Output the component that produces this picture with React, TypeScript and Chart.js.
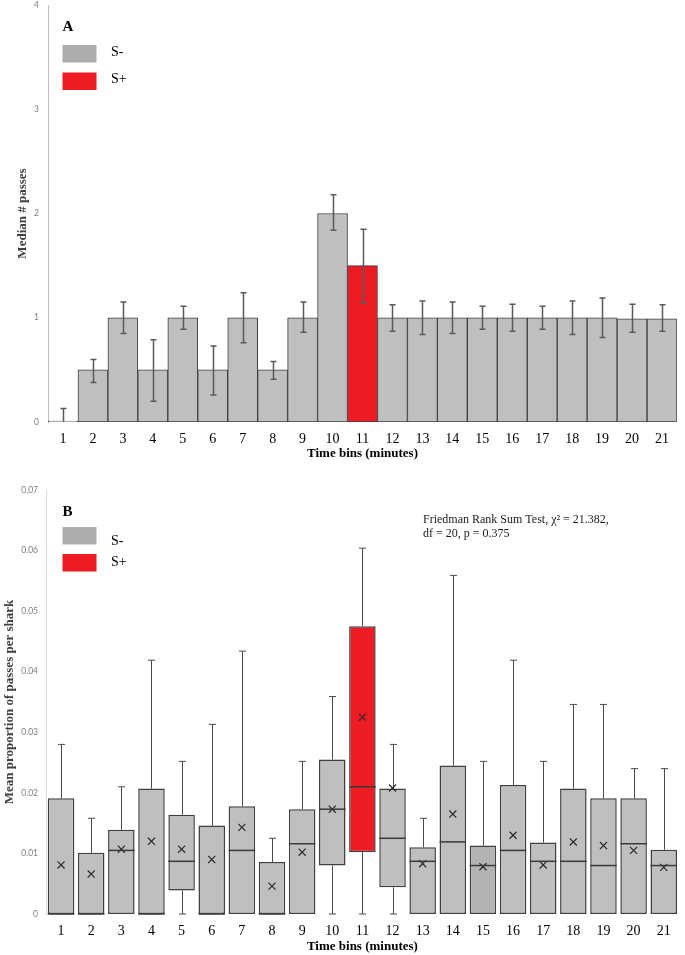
import React, { useEffect, useRef } from "react";
import { Chart, registerables } from "chart.js";

Chart.register(...registerables);

// ---------- Data ----------
const timeBins = ["1","2","3","4","5","6","7","8","9","10","11","12","13","14","15","16","17","18","19","20","21"];
const stimulusIndex = 10; // bin 11 = S+

// Panel A: median # passes with error bars
const medianPasses = [0, 0.5, 1, 0.5, 1, 0.5, 1, 0.5, 1, 2, 1.5, 1, 1, 1, 1, 1, 1, 1, 1, 0.99, 0.99];
const passesErrLow = [0, 0.38, 0.85, 0.2, 0.89, 0.26, 0.76, 0.41, 0.86, 1.84, 1.14, 0.87, 0.84, 0.85, 0.89, 0.87, 0.89, 0.84, 0.81, 0.86, 0.87];
const passesErrHigh = [0.13, 0.6, 1.15, 0.79, 1.11, 0.73, 1.24, 0.58, 1.15, 2.18, 1.85, 1.125, 1.16, 1.15, 1.11, 1.13, 1.11, 1.16, 1.19, 1.13, 1.125];
const passTicks = [0, 1, 2, 3, 4];

// Panel B: box plots of mean proportion of passes per shark
const propMin = [0, 0, 0, 0, 0, 0, 0, 0, 0, 0, 0, 0, 0, 0, 0, 0, 0, 0, 0, 0, 0];
const propQ1 = [0, 0, 0, 0, 0.0039, 0, 0, 0, 0, 0.008, 0.0102, 0.0044, 0, 0, 0, 0, 0, 0, 0, 0, 0];
const propMedian = [0, 0, 0.0105, 0, 0.0087, 0, 0.0105, 0, 0.0116, 0.0173, 0.021, 0.0125, 0.0087, 0.0119, 0.008, 0.0105, 0.0087, 0.0087, 0.008, 0.0116, 0.008];
const propQ3 = [0.0191, 0.0101, 0.0139, 0.0207, 0.0164, 0.0146, 0.0178, 0.0086, 0.0173, 0.0255, 0.0475, 0.0207, 0.011, 0.0245, 0.0113, 0.0213, 0.0118, 0.0207, 0.0191, 0.0191, 0.0106];
const propMax = [0.028, 0.0158, 0.021, 0.0419, 0.0252, 0.0313, 0.0434, 0.0125, 0.0252, 0.0359, 0.0604, 0.028, 0.0158, 0.0559, 0.0252, 0.0419, 0.0252, 0.0346, 0.0346, 0.024, 0.024];
const propMean = [0.0081, 0.0066, 0.0107, 0.012, 0.0107, 0.009, 0.0143, 0.0046, 0.0102, 0.0173, 0.0325, 0.0208, 0.0083, 0.0165, 0.0078, 0.013, 0.0081, 0.0119, 0.0113, 0.0105, 0.0077];
const propTicks = [0, 0.01, 0.02, 0.03, 0.04, 0.05, 0.06, 0.07];

const legendLabels = ["S-", "S+"];
const statLine1 = "Friedman Rank Sum Test, \u03C7\u00B2 = 21.382,";
const statLine2 = "df = 20, p = 0.375";

// ---------- Styles ----------
const GRAY_BAR = "#c0bfbf";
const GRAY_BOX = "#bfbfbf";
const GRAY_BOX_DARK = "#b3b3b3";
const RED = "#ed1c24";
const SWATCH_GRAY = "#adadad";
const SERIF = "'Liberation Serif', 'Times New Roman', serif";
const SANS = "Lato, 'Open Sans', sans-serif";

function drawLegend(ctx: CanvasRenderingContext2D, letter: string, letterY: number, sw1Y: number, sw2Y: number, t1Y: number, t2Y: number) {
  ctx.save();
  ctx.fillStyle = "#000";
  ctx.font = `bold 15px ${SERIF}`;
  ctx.textBaseline = "middle";
  ctx.textAlign = "left";
  ctx.fillText(letter, 62.5, letterY);
  ctx.fillStyle = SWATCH_GRAY;
  ctx.fillRect(62.5, sw1Y, 34, 17.5);
  ctx.fillStyle = RED;
  ctx.fillRect(62.5, sw2Y, 34, 17.5);
  ctx.fillStyle = "#000";
  ctx.font = `14px ${SERIF}`;
  ctx.fillText(legendLabels[0], 111, t1Y);
  ctx.fillText(legendLabels[1], 111, t2Y);
  ctx.restore();
}

function PanelA() {
  const ref = useRef<HTMLCanvasElement | null>(null);
  useEffect(() => {
    const errorBars = {
      id: "errorBarsA",
      afterDatasetsDraw(chart: any) {
        const { ctx } = chart;
        const meta = chart.getDatasetMeta(0);
        const y = chart.scales.y;
        ctx.save();
        ctx.strokeStyle = "#5a5a5a";
        ctx.lineWidth = 1.5;
        meta.data.forEach((bar: any, i: number) => {
          const x = Math.round(bar.x) + 0.5;
          const yl = y.getPixelForValue(passesErrLow[i]);
          const yh = y.getPixelForValue(passesErrHigh[i]);
          ctx.beginPath();
          ctx.moveTo(x, yl);
          ctx.lineTo(x, yh);
          ctx.moveTo(x - 3, yh);
          ctx.lineTo(x + 3, yh);
          if (passesErrLow[i] > 0) {
            ctx.moveTo(x - 3, yl);
            ctx.lineTo(x + 3, yl);
          }
          ctx.stroke();
        });
        ctx.restore();
        drawLegend(ctx, "A", 27, 45, 72.5, 52, 79);
      },
    };
    const chart = new Chart(ref.current as HTMLCanvasElement, {
      type: "bar",
      data: {
        labels: timeBins,
        datasets: [
          {
            data: medianPasses,
            backgroundColor: timeBins.map((_, i) => (i === stimulusIndex ? RED : GRAY_BAR)),
            borderColor: "#3f3f3f",
            borderWidth: 1,
            borderSkipped: false,
            barPercentage: 1,
            categoryPercentage: 1,
            minBarLength: 1,
          },
        ],
      },
      options: {
        responsive: false,
        maintainAspectRatio: false,
        animation: false,
        layout: { padding: { top: 5, right: 8, bottom: 0, left: 0 } },
        plugins: { legend: { display: false }, tooltip: { enabled: false } },
        scales: {
          x: {
            grid: { display: false, drawTicks: false },
            border: { display: false },
            ticks: { color: "#000", font: { family: SERIF, size: 14 }, padding: 9, maxRotation: 0, autoSkip: false },
            title: {
              display: true,
              text: "Time bins (minutes)",
              color: "#000",
              font: { family: SERIF, size: 13, weight: "bold" },
              padding: { top: 0, bottom: 4 },
            },
            afterFit: (s: any) => { s.height = 43; s.paddingLeft = 0; s.paddingRight = 0; },
          },
          y: {
            min: 0,
            max: 4,
            afterBuildTicks: (s: any) => { s.ticks = passTicks.map((v) => ({ value: v })); },
            grid: { display: false, drawTicks: false },
            border: { display: true, color: "#bfbfbf", width: 1 },
            ticks: { color: "#7f7f7f", font: { family: SANS, size: 8.5 }, padding: 9 },
            title: {
              display: true,
              text: "Median # passes",
              color: "#404040",
              font: { family: SERIF, size: 13, weight: "bold" },
              padding: { top: 15, bottom: 0 },
            },
            afterFit: (s: any) => { s.width = 48; s.paddingTop = 0; s.paddingBottom = 0; },
          },
        },
      },
      plugins: [errorBars],
    } as any);
    return () => chart.destroy();
  }, []);
  return <canvas ref={ref} width={685} height={465} style={{ position: "absolute", left: 0, top: 0, width: 685, height: 465 }} />;
}

function PanelB() {
  const ref = useRef<HTMLCanvasElement | null>(null);
  useEffect(() => {
    const boxParts = {
      id: "boxPartsB",
      beforeDatasetsDraw(chart: any) {
        const { ctx } = chart;
        const meta = chart.getDatasetMeta(0);
        const y = chart.scales.y;
        ctx.save();
        ctx.strokeStyle = "#4a4a4a";
        ctx.lineWidth = 1;
        meta.data.forEach((bar: any, i: number) => {
          const x = Math.round(bar.x) + 0.5;
          const yMax = y.getPixelForValue(propMax[i]);
          const yQ3 = y.getPixelForValue(propQ3[i]);
          ctx.beginPath();
          ctx.moveTo(x, yQ3);
          ctx.lineTo(x, yMax);
          ctx.moveTo(x - 3.5, yMax);
          ctx.lineTo(x + 3.5, yMax);
          if (propQ1[i] > propMin[i]) {
            const yMin = y.getPixelForValue(propMin[i]);
            const yQ1 = y.getPixelForValue(propQ1[i]);
            ctx.moveTo(x, yQ1);
            ctx.lineTo(x, yMin);
            ctx.moveTo(x - 3.5, yMin);
            ctx.lineTo(x + 3.5, yMin);
          }
          ctx.stroke();
        });
        ctx.restore();
      },
      afterDatasetsDraw(chart: any) {
        const { ctx } = chart;
        const meta = chart.getDatasetMeta(0);
        const y = chart.scales.y;
        ctx.save();
        ctx.strokeStyle = "#3a3a3a";
        ctx.lineWidth = 1.5;
        meta.data.forEach((bar: any, i: number) => {
          const ym = y.getPixelForValue(propMedian[i]);
          ctx.beginPath();
          ctx.moveTo(bar.x - bar.width / 2, ym);
          ctx.lineTo(bar.x + bar.width / 2, ym);
          ctx.stroke();
        });
        ctx.restore();
        drawLegend(ctx, "B", 47, 62, 89, 76.5, 97);
        ctx.save();
        ctx.fillStyle = "#1a1a1a";
        ctx.font = `12px ${SERIF}`;
        ctx.textBaseline = "middle";
        ctx.textAlign = "left";
        ctx.fillText(statLine1, 423, 55);
        ctx.fillText(statLine2, 423, 68.5);
        ctx.restore();
      },
    };
    const chart = new Chart(ref.current as HTMLCanvasElement, {
      type: "bar",
      data: {
        labels: timeBins,
        datasets: [
          {
            type: "bar",
            data: timeBins.map((_, i) => [propQ1[i], propQ3[i]]),
            backgroundColor: timeBins.map((_, i) => (i === stimulusIndex ? RED : i === 14 ? GRAY_BOX_DARK : GRAY_BOX)),
            borderColor: "#3f3f3f",
            borderWidth: 1.5,
            borderSkipped: false,
            barPercentage: 0.88,
            categoryPercentage: 1,
            order: 2,
          },
          {
            type: "line",
            data: propMean,
            showLine: false,
            pointStyle: "crossRot",
            pointRadius: 5,
            pointBorderColor: "#2a2a2a",
            pointBorderWidth: 1.2,
            pointBackgroundColor: "#2a2a2a",
            order: 1,
          },
        ],
      },
      options: {
        responsive: false,
        maintainAspectRatio: false,
        animation: false,
        layout: { padding: { top: 25, right: 1, bottom: 0, left: 0 } },
        plugins: { legend: { display: false }, tooltip: { enabled: false } },
        scales: {
          x: {
            grid: { display: false, drawTicks: false },
            border: { display: false },
            ticks: { color: "#000", font: { family: SERIF, size: 14 }, padding: 9, maxRotation: 0, autoSkip: false },
            title: {
              display: true,
              text: "Time bins (minutes)",
              color: "#000",
              font: { family: SERIF, size: 13, weight: "bold" },
              padding: { top: 0, bottom: 1 },
            },
            afterFit: (s: any) => { s.height = 41; s.paddingLeft = 0; s.paddingRight = 0; },
          },
          y: {
            min: 0,
            max: 0.07,
            afterBuildTicks: (s: any) => { s.ticks = propTicks.map((v) => ({ value: v })); },
            grid: { display: false, drawTicks: false },
            border: { display: true, color: "#d9d9d9", width: 1 },
            ticks: {
              color: "#7f7f7f",
              font: { family: SANS, size: 8.5 },
              padding: 8,
              callback: (v: any) => (Number(v) === 0 ? "0" : Number(v).toFixed(2)),
            },
            title: {
              display: true,
              text: "Mean proportion of passes per shark",
              color: "#404040",
              font: { family: SERIF, size: 13, weight: "bold" },
              padding: { top: 2, bottom: 0 },
            },
            afterFit: (s: any) => { s.width = 46; s.paddingTop = 0; s.paddingBottom = 0; },
          },
        },
      },
      plugins: [boxParts],
    } as any);
    return () => chart.destroy();
  }, []);
  return <canvas ref={ref} width={685} height={490} style={{ position: "absolute", left: 0, top: 465, width: 685, height: 490 }} />;
}

export default function App() {
  return (
    <div style={{ position: "absolute", left: 0, top: 0, width: 685, height: 955, background: "#fff" }}>
      <PanelA />
      <PanelB />
    </div>
  );
}
